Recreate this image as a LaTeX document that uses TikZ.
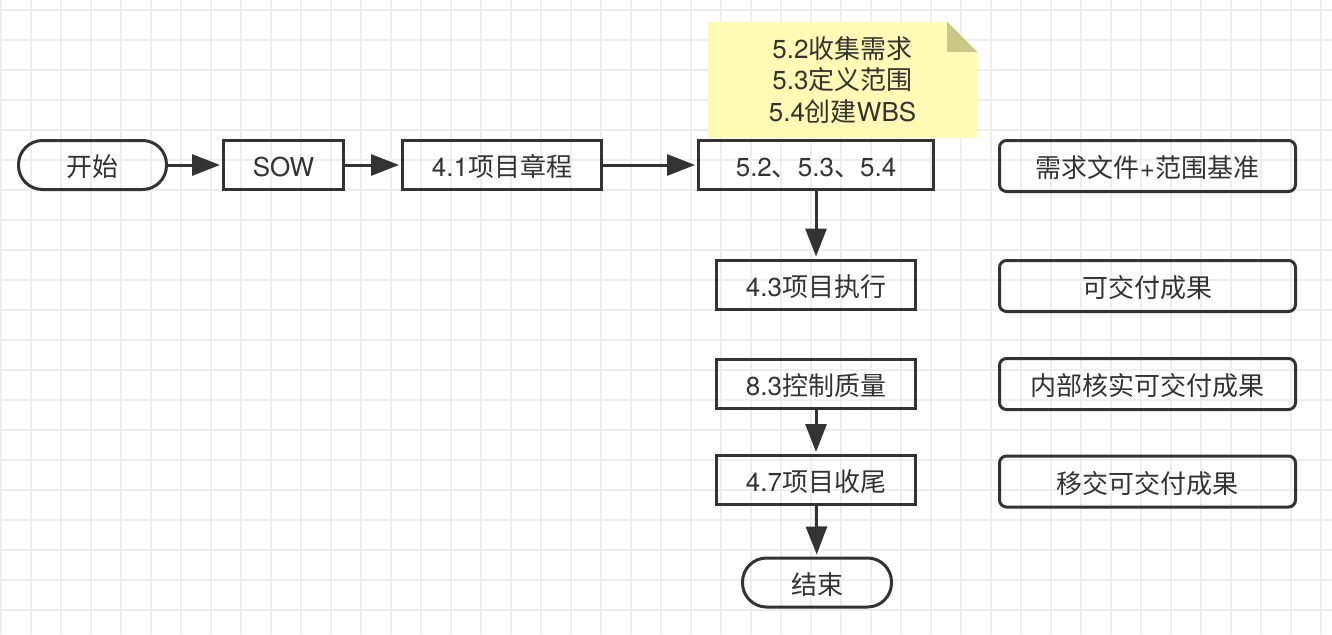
\documentclass[tikz,border=0pt]{standalone}
\usepackage{fontspec}
\setmainfont{TeX Gyre Heros}
\newfontfamily\cjk{Noto Sans CJK SC}
\usetikzlibrary{arrows.meta}
\pgfdeclarelayer{gridlayer}
\pgfdeclarelayer{notelayer}
\pgfsetlayers{gridlayer,notelayer,main}
\definecolor{ink}{HTML}{333333}
\definecolor{gridc}{HTML}{EEEEEE}
\definecolor{notefill}{HTML}{FFFAB4}
\definecolor{notefold}{HTML}{C9C987}
\begin{document}
\begin{tikzpicture}[x=1pt,y=-1pt,
  every node/.style={text=ink, font=\fontsize{26}{32}\selectfont, inner sep=0pt,
    text height=24pt, text depth=1pt},
  base/.style={draw=ink, line width=3pt, minimum height=49pt},
  pill/.style={base, rounded corners=24pt},
  box/.style={base},
  rbox/.style={base, rounded corners=7pt, minimum width=296pt, minimum height=51pt},
  conn/.style={draw=ink, line width=3pt, -{Triangle[length=28pt,width=21pt]}, shorten >=2pt}
]
\useasboundingbox (0,0) rectangle (1332,634);
\begin{pgfonlayer}{gridlayer}
  \foreach \x in {1,31,...,1331} \draw[gridc, line width=2pt] (\x,0) -- (\x,634);
  \foreach \y in {10,40,...,634} \draw[gridc, line width=2pt] (0,\y) -- (1332,\y);
\end{pgfonlayer}

\node[pill, minimum width=148pt] (start) at (92.5,165) {\cjk 开始};
\node[box, minimum width=120pt] (sow) at (283.5,165) {SOW};
\node[box, minimum width=199pt] (charter) at (502,165) {4.1{\cjk 项目章程}};
\node[box, minimum width=235pt] (scope) at (816,165) {5.2{\cjk 、}5.3{\cjk 、}5.4};
\node[box, minimum width=199pt] (exec) at (816,284.5) {4.3{\cjk 项目执行}};
\node[box, minimum width=199pt] (qc) at (816,383.5) {8.3{\cjk 控制质量}};
\node[box, minimum width=199pt] (close) at (816,480) {4.7{\cjk 项目收尾}};
\node[pill, minimum width=149pt] (end) at (817,582.5) {\cjk 结束};

\node[rbox] (r1) at (1147.5,166) {\cjk 需求文件{\rmfamily +}范围基准};
\node[rbox] (r2) at (1147.5,286) {\cjk 可交付成果};
\node[rbox] (r3) at (1147.5,384) {\cjk 内部核实可交付成果};
\node[rbox] (r4) at (1147.5,481.5) {\cjk 移交可交付成果};

\node[minimum width=269pt, minimum height=116pt, align=center,
      text height=, text depth=, font=\fontsize{26}{31.5}\selectfont] (note) at (842.5,80)
  {5.2{\cjk 收集需求}\\5.3{\cjk 定义范围}\\5.4{\cjk 创建}WBS};
\begin{pgfonlayer}{notelayer}
  \fill[notefill] (note.north west) -- ([xshift=-30pt]note.north east)
     -- ([yshift=-30pt]note.north east) -- (note.south east) -- (note.south west) -- cycle;
  \fill[notefold] ([xshift=-30pt]note.north east) -- ([xshift=-30pt,yshift=-30pt]note.north east)
     -- ([yshift=-30pt]note.north east) -- cycle;
\end{pgfonlayer}

\draw[conn] (start) -- (sow);
\draw[conn] (sow) -- (charter);
\draw[conn] (charter) -- (scope);
\draw[conn] (scope) -- (exec);
\draw[conn] (qc) -- (close);
\draw[conn] (close) -- (end);
\end{tikzpicture}
\end{document}
